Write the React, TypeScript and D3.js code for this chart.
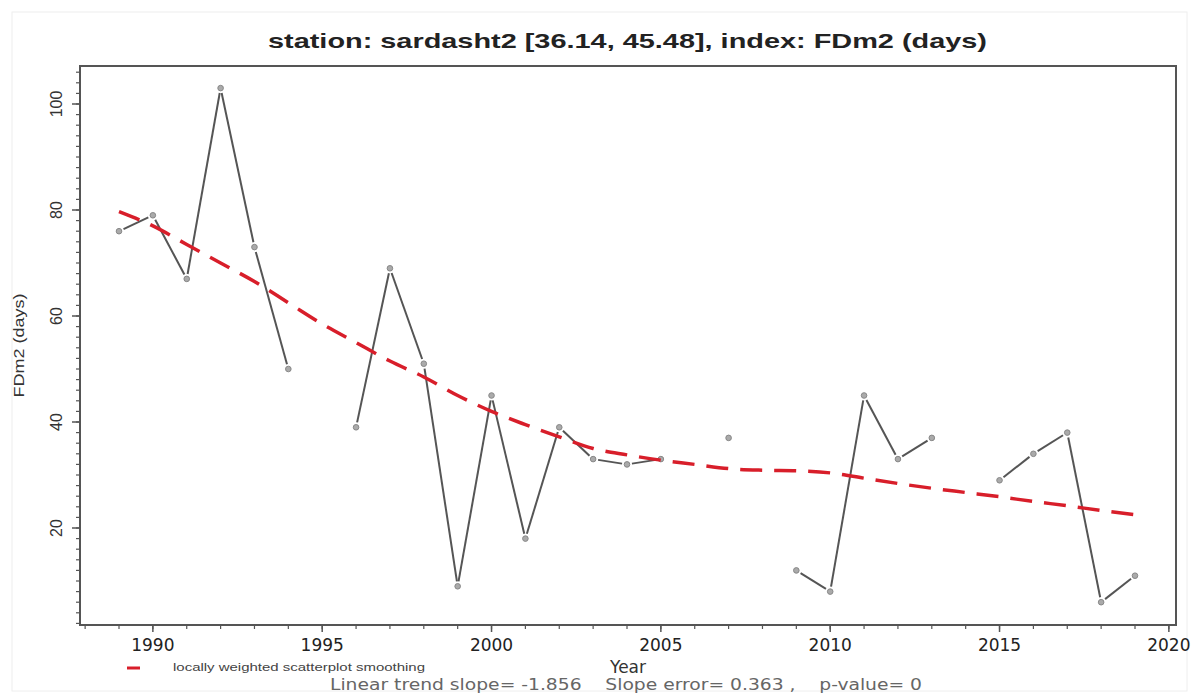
import React from 'react';
import * as d3 from 'd3';

const years = [1989, 1990, 1991, 1992, 1993, 1994, 1995, 1996, 1997, 1998, 1999, 2000, 2001, 2002, 2003, 2004, 2005, 2006, 2007, 2008, 2009, 2010, 2011, 2012, 2013, 2014, 2015, 2016, 2017, 2018, 2019];
const fdm2: (number | null)[] = [76, 79, 67, 103, 73, 50, null, 39, 69, 51, 9, 45, 18, 39, 33, 32, 33, null, 37, null, 12, 8, 45, 33, 37, null, 29, 34, 38, 6, 11];
const loessSmooth = [79.7, 77, 73.5, 70, 66.5, 62.5, 58.5, 55, 51.5, 48.5, 45, 42, 39.5, 37.2, 35, 33.8, 32.8, 32, 31.2, 30.9, 30.8, 30.4, 29.4, 28.4, 27.5, 26.7, 25.9, 25, 24.2, 23.3, 22.5];
const xMajorTicks = [1990, 1995, 2000, 2005, 2010, 2015, 2020];
const yMajorTicks = [20, 40, 60, 80, 100];

const titleText = 'station: sardasht2 [36.14, 45.48], index: FDm2 (days)';
const legendText = 'locally weighted scatterplot smoothing';
const statsText = 'Linear trend slope= -1.856    Slope error= 0.363 ,    p-value= 0';

const W = 1199;
const H = 695;
const box = { left: 80, right: 1176, top: 66, bottom: 625 };

export default function App() {
  const x = d3.scaleLinear().domain([1989, 2019]).range([119, 1135]);
  const y = d3.scaleLinear().domain([0, 100]).range([634, 104]);

  const segs: { x1: number; y1: number; x2: number; y2: number }[] = [];
  for (let i = 0; i < years.length - 1; i++) {
    const a = fdm2[i];
    const b = fdm2[i + 1];
    if (a == null || b == null) continue;
    const px = x(years[i]), py = y(a), qx = x(years[i + 1]), qy = y(b);
    const dx = qx - px, dy = qy - py;
    const len = Math.sqrt(dx * dx + dy * dy);
    const g = 5;
    if (len <= 2 * g) continue;
    segs.push({ x1: px + (dx / len) * g, y1: py + (dy / len) * g, x2: qx - (dx / len) * g, y2: qy - (dy / len) * g });
  }

  const loessLine = d3
    .line<number>()
    .x((_, i) => x(years[i]))
    .y((d) => y(d))
    .curve(d3.curveMonotoneX)(loessSmooth) as string;

  const xMinor = d3.range(1988, 2021);
  const yMinor = d3.range(2, 108, 2);
  const midX = (box.left + box.right) / 2;

  return (
    <svg width={W} height={H} style={{ position: 'absolute', left: 0, top: 0, background: '#fff' }}>
      <rect x={12} y={12} width={W - 24} height={H - 16} fill="none" stroke="#eee" strokeWidth={1} />
      <text x={268} y={48} fontFamily="Liberation Sans, Arial, sans-serif" fontWeight="bold" fontSize={21} fill="#222" textLength={719} lengthAdjust="spacingAndGlyphs">
        {titleText}
      </text>
      {/* plot frame */}
      <rect x={box.left} y={box.top} width={box.right - box.left} height={box.bottom - box.top} fill="none" stroke="#555" strokeWidth={2} />
      {/* y ticks */}
      {yMinor.map((v) => (
        <line key={'ym' + v} x1={box.left - 4} x2={box.left} y1={y(v)} y2={y(v)} stroke="#555" strokeWidth={1.2} />
      ))}
      {yMajorTicks.map((v) => (
        <g key={'y' + v}>
          <line x1={box.left - 8} x2={box.left} y1={y(v)} y2={y(v)} stroke="#555" strokeWidth={1.5} />
          <text transform={`translate(${box.left - 18},${y(v)}) rotate(-90)`} textAnchor="middle" fontFamily="Liberation Sans, Arial, sans-serif" fontSize={16} fill="#333">
            {v}
          </text>
        </g>
      ))}
      <text transform={`translate(24,${(box.top + box.bottom) / 2}) rotate(-90)`} textAnchor="middle" fontFamily="Liberation Sans, Arial, sans-serif" fontSize={14} fill="#333" textLength={104} lengthAdjust="spacingAndGlyphs">
        FDm2 (days)
      </text>
      {/* x ticks */}
      {xMinor.map((v) => (
        <line key={'xm' + v} x1={x(v)} x2={x(v)} y1={box.bottom} y2={box.bottom + 4} stroke="#555" strokeWidth={1.2} />
      ))}
      {xMajorTicks.map((v) => (
        <g key={'x' + v}>
          <line x1={x(v)} x2={x(v)} y1={box.bottom} y2={box.bottom + 7} stroke="#555" strokeWidth={1.5} />
          <text x={x(v)} y={651} textAnchor="middle" fontFamily="DejaVu Sans, Verdana, sans-serif" fontSize={17} fill="#222">
            {v}
          </text>
        </g>
      ))}
      {/* data line */}
      {segs.map((s, i) => (
        <line key={'s' + i} x1={s.x1} y1={s.y1} x2={s.x2} y2={s.y2} stroke="#555" strokeWidth={2} />
      ))}
      {years.map((yr, i) =>
        fdm2[i] == null ? null : (
          <circle key={'p' + yr} cx={x(yr)} cy={y(fdm2[i] as number)} r={2.8} fill="#aaa" stroke="#888" strokeWidth={1} />
        )
      )}
      {/* loess */}
      <path d={loessLine} fill="none" stroke="#d81e2a" strokeWidth={3.5} strokeDasharray="22 12" />
      {/* legend */}
      <line x1={127} x2={140} y1={668} y2={668} stroke="#d81e2a" strokeWidth={3} />
      <text x={173} y={671} fontFamily="Liberation Sans, Arial, sans-serif" fontSize={11} fill="#444" textLength={252} lengthAdjust="spacingAndGlyphs">
        {legendText}
      </text>
      <text x={628} y={673} textAnchor="middle" fontFamily="DejaVu Sans, Verdana, sans-serif" fontSize={17} fill="#333">
        Year
      </text>
      <text x={330} y={690} fontFamily="DejaVu Sans, Verdana, sans-serif" fontSize={16} fill="#666" xmlSpace="preserve" textLength={592} lengthAdjust="spacingAndGlyphs">
        {statsText}
      </text>
    </svg>
  );
}
